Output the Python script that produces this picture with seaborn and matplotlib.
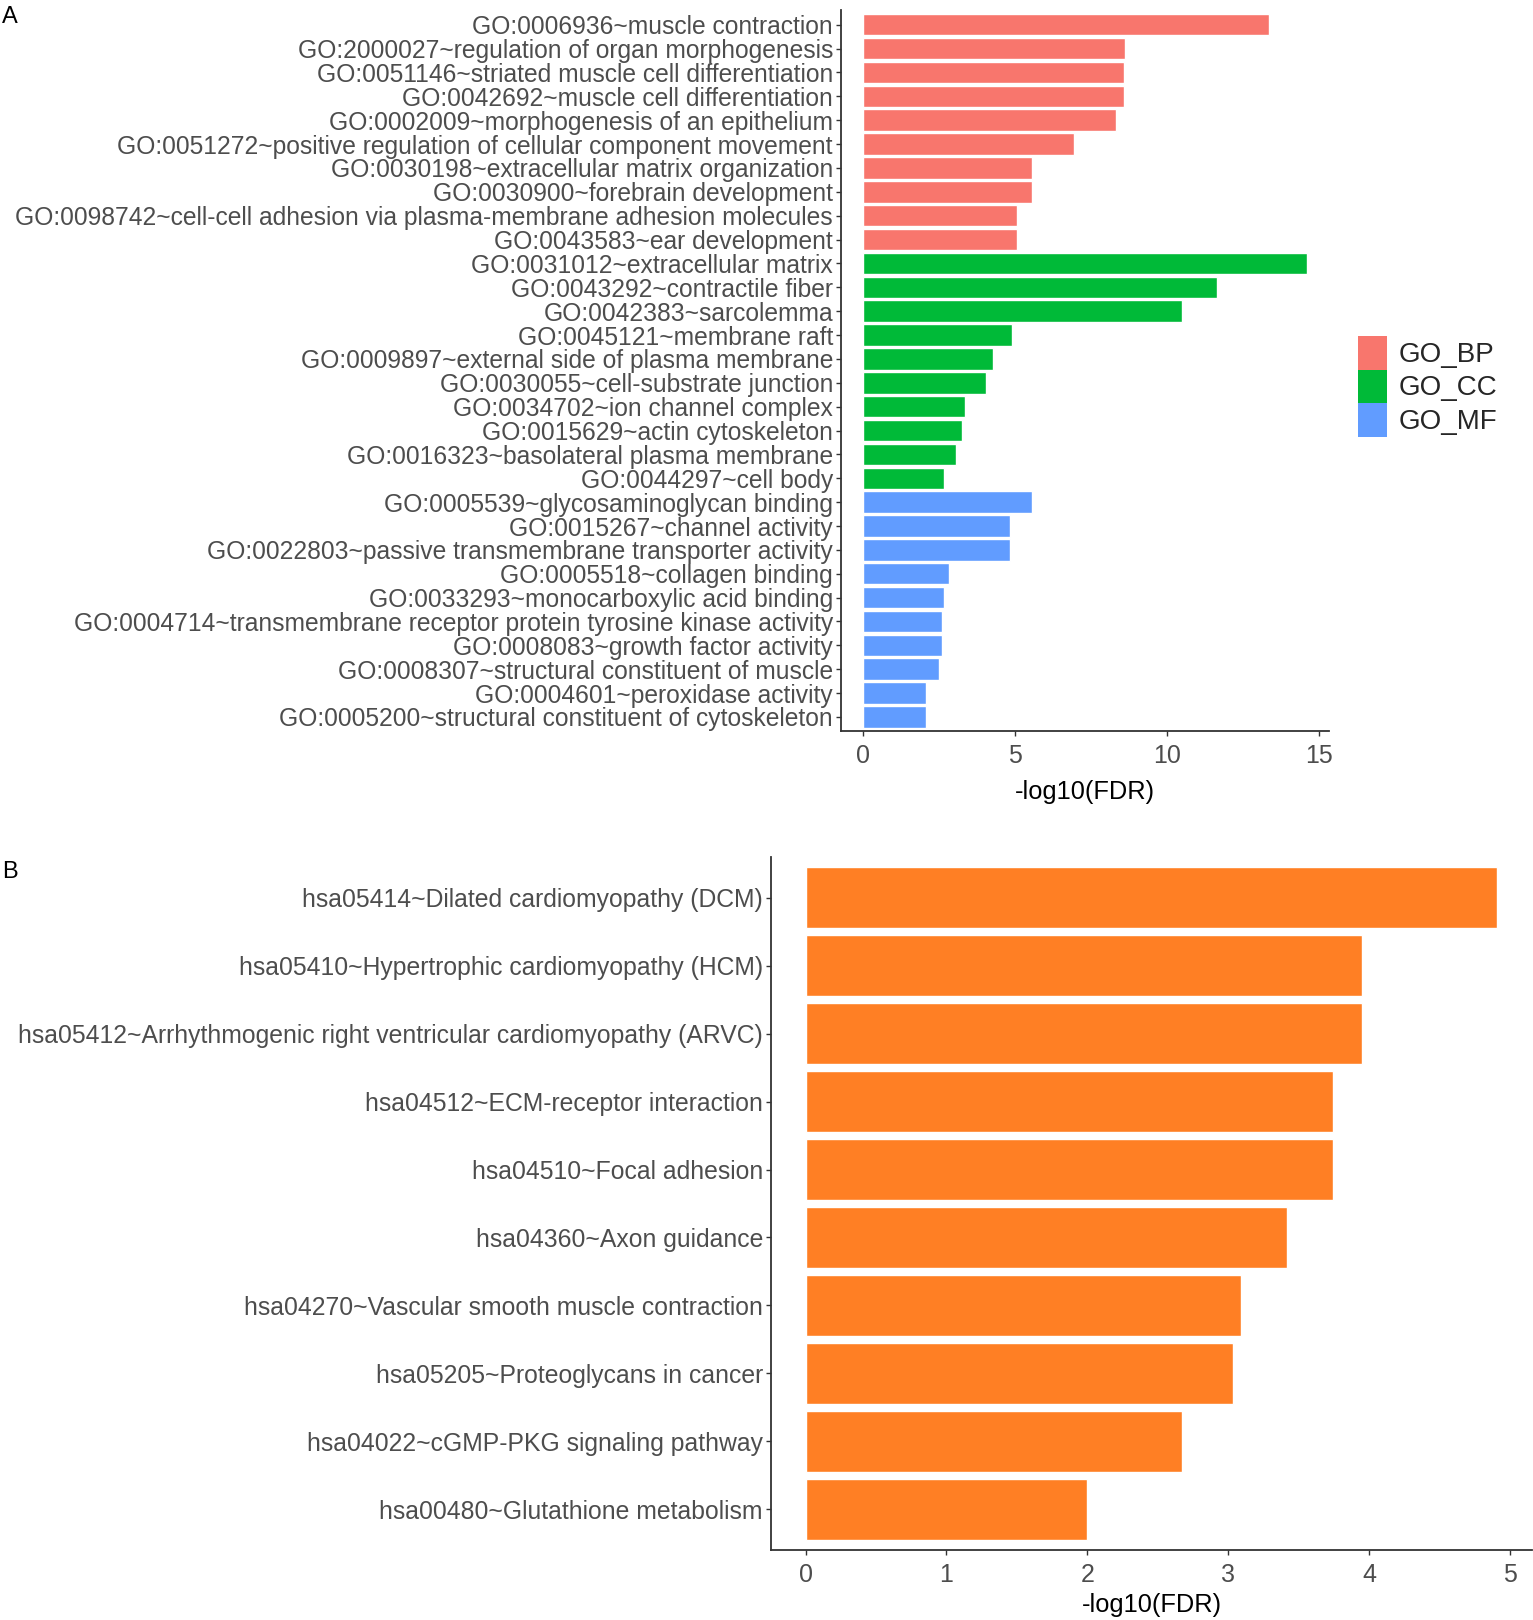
import matplotlib
matplotlib.use("Agg")
import matplotlib.pyplot as plt
from matplotlib.patches import Patch
import seaborn as sns
import pandas as pd

# ---------------- data ----------------
bp_terms = [
    "GO:0006936~muscle contraction",
    "GO:2000027~regulation of organ morphogenesis",
    "GO:0051146~striated muscle cell differentiation",
    "GO:0042692~muscle cell differentiation",
    "GO:0002009~morphogenesis of an epithelium",
    "GO:0051272~positive regulation of cellular component movement",
    "GO:0030198~extracellular matrix organization",
    "GO:0030900~forebrain development",
    "GO:0098742~cell-cell adhesion via plasma-membrane adhesion molecules",
    "GO:0043583~ear development",
]
bp_values = [13.36, 8.63, 8.60, 8.60, 8.33, 6.93, 5.57, 5.57, 5.05, 5.05]

cc_terms = [
    "GO:0031012~extracellular matrix",
    "GO:0043292~contractile fiber",
    "GO:0042383~sarcolemma",
    "GO:0045121~membrane raft",
    "GO:0009897~external side of plasma membrane",
    "GO:0030055~cell-substrate junction",
    "GO:0034702~ion channel complex",
    "GO:0015629~actin cytoskeleton",
    "GO:0016323~basolateral plasma membrane",
    "GO:0044297~cell body",
]
cc_values = [14.61, 11.65, 10.51, 4.91, 4.26, 4.03, 3.35, 3.27, 3.06, 2.67]

mf_terms = [
    "GO:0005539~glycosaminoglycan binding",
    "GO:0015267~channel activity",
    "GO:0022803~passive transmembrane transporter activity",
    "GO:0005518~collagen binding",
    "GO:0033293~monocarboxylic acid binding",
    "GO:0004714~transmembrane receptor protein tyrosine kinase activity",
    "GO:0008083~growth factor activity",
    "GO:0008307~structural constituent of muscle",
    "GO:0004601~peroxidase activity",
    "GO:0005200~structural constituent of cytoskeleton",
]
mf_values = [5.57, 4.85, 4.85, 2.81, 2.67, 2.59, 2.59, 2.50, 2.08, 2.08]

go_categories = ["GO_BP", "GO_CC", "GO_MF"]
go_colors = ["#F8766D", "#00BA38", "#619CFF"]

kegg_terms = [
    "hsa05414~Dilated cardiomyopathy (DCM)",
    "hsa05410~Hypertrophic cardiomyopathy (HCM)",
    "hsa05412~Arrhythmogenic right ventricular cardiomyopathy (ARVC)",
    "hsa04512~ECM-receptor interaction",
    "hsa04510~Focal adhesion",
    "hsa04360~Axon guidance",
    "hsa04270~Vascular smooth muscle contraction",
    "hsa05205~Proteoglycans in cancer",
    "hsa04022~cGMP-PKG signaling pathway",
    "hsa00480~Glutathione metabolism",
]
kegg_values = [4.91, 3.95, 3.95, 3.74, 3.74, 3.42, 3.09, 3.03, 2.67, 2.00]
kegg_color = "#FF7F24"

x_label = "-log10(FDR)"
go_xticks = [0, 5, 10, 15]
kegg_xticks = [0, 1, 2, 3, 4, 5]

# ---------------- style ----------------
sns.set_style("white")
plt.rcParams["font.family"] = ["Liberation Sans", "DejaVu Sans"]

W, H = 1533, 1620
fig = plt.figure(figsize=(W / 100, H / 100), dpi=100)

def axes_px(left, right, top, bottom):
    return fig.add_axes([left / W, 1 - bottom / H, (right - left) / W, (bottom - top) / H])

axA = axes_px(841, 1329, 10.4, 731.3)
axB = axes_px(771, 1532, 857, 1550)

go_df = pd.DataFrame({
    "term": bp_terms + cc_terms + mf_terms,
    "value": bp_values + cc_values + mf_values,
    "category": [go_categories[0]] * len(bp_terms)
    + [go_categories[1]] * len(cc_terms)
    + [go_categories[2]] * len(mf_terms),
})
kegg_df = pd.DataFrame({"term": kegg_terms, "value": kegg_values})

sns.barplot(data=go_df, x="value", y="term", hue="category", order=list(go_df["term"]),
            hue_order=go_categories, palette=dict(zip(go_categories, go_colors)),
            dodge=False, width=0.9, saturation=1, legend=False, ax=axA, orient="y")
sns.barplot(data=kegg_df, x="value", y="term", order=kegg_terms, color=kegg_color,
            width=0.9, saturation=1, ax=axB, orient="y")

def style(ax, n, vmax, ticks, fs_y, label_y):
    ax.set_ylim(n - 0.4, -0.6)
    ax.set_xlim(-0.05 * vmax, vmax * 1.05)
    ax.set_xticks(ticks)
    ax.set_xticklabels([str(t) for t in ticks])
    for s in ["top", "right"]:
        ax.spines[s].set_visible(False)
    for s in ["left", "bottom"]:
        ax.spines[s].set_color("#333333")
        ax.spines[s].set_linewidth(1.3)
    ax.tick_params(axis="both", which="both", direction="out", length=3.6, width=1.0,
                   color="#333333", labelcolor="#4D4D4D", left=True, bottom=True)
    ax.tick_params(axis="y", pad=2.2, labelsize=fs_y)
    ax.tick_params(axis="x", pad=5.8, labelsize=18)
    ax.set_ylabel("")
    ax.set_xlabel(x_label, fontsize=18.3, color="black")
    ax.xaxis.set_label_coords(0.5, label_y)
    ax.xaxis.label.set_va("center")
    ax.grid(False)

style(axA, len(go_df), max(go_df["value"]), go_xticks, 17.7, -0.0845)
style(axB, len(kegg_df), max(kegg_values), kegg_xticks, 17.85, -0.0795)

handles = [Patch(facecolor=c, edgecolor="none", label=l) for c, l in zip(go_colors, go_categories)]
fig.legend(handles=handles, loc="upper left", bbox_to_anchor=(1358 / W, 1 - 336 / H),
           bbox_transform=fig.transFigure, frameon=False, fontsize=20,
           handlelength=1.05, handleheight=1.48, handletextpad=0.4,
           labelspacing=0.0, borderpad=0.0, borderaxespad=0.0)

fig.text(2 / W, 1 - 17 / H, "A", fontsize=17, ha="left", va="center", color="black")
fig.text(2 / W, 1 - 872 / H, "B", fontsize=17, ha="left", va="center", color="black")

fig.savefig("out.png", dpi=100, facecolor="white")
